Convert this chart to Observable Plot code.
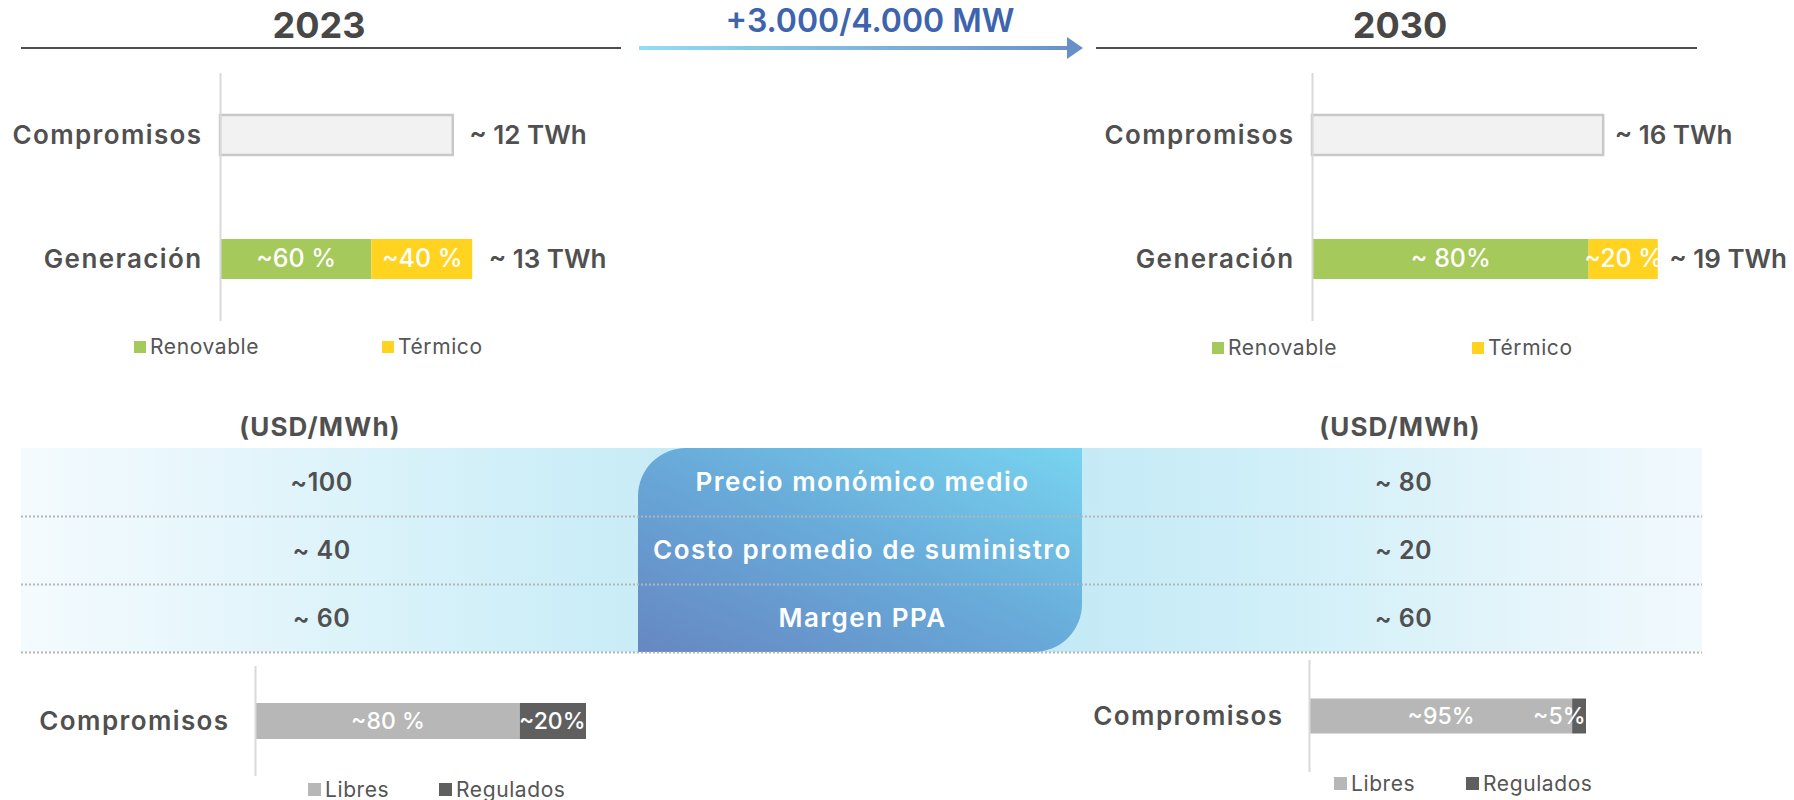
<!DOCTYPE html>
<html>
<head>
<meta charset="utf-8">
<script src="https://cdn.jsdelivr.net/npm/d3@7"></script>
<script src="https://cdn.jsdelivr.net/npm/@observablehq/plot@0.6"></script>
<style>
  html, body { margin: 0; padding: 0; background: #fff; }
  #root { position: relative; width: 1794px; height: 800px; overflow: hidden; font-family: Inter, "Open Sans", sans-serif; }
  .abs { position: absolute; }
  .legend-item { position: absolute; font-size: 21px; color: #555; line-height: 1; white-space: nowrap; letter-spacing: 0.6px; z-index: 4; }
  .swatch { position: absolute; }
</style>
</head>
<body>
<div id="root"></div>
<script>
// ---------------- DATA ----------------
const years = ["2023", "2030"];
const capacityLabel = "+3.000/4.000 MW";
const unitLabel = "(USD/MWh)";

const barCategories = ["Compromisos", "Generación"];
const compromisosTWh = [12, 16];
const generacionTWh = [13, 19];
const compromisosLabels = ["~ 12 TWh", "~ 16 TWh"];
const generacionLabels = ["~ 13 TWh", "~ 19 TWh"];

const genTypes = ["Renovable", "Térmico"];
const genColors = ["#a5c95a", "#ffd31f"];
const renovableShare = [60, 80];
const termicoShare = [40, 20];
const renovableLabels = ["~60 %", "~ 80%"];
const termicoLabels = ["~40 %", "~20 %"];

const priceRows = ["Precio monómico medio", "Costo promedio de suministro", "Margen PPA"];
const prices2023 = [100, 40, 60];
const prices2030 = [80, 20, 60];
const price2023Labels = ["~100", "~ 40", "~ 60"];
const price2030Labels = ["~ 80", "~ 20", "~ 60"];

const contractCategory = ["Compromisos"];
const contractTypes = ["Libres", "Regulados"];
const contractColors = ["#b7b7b7", "#5f5f5f"];
const libresShare = [80, 95];
const reguladosShare = [20, 5];
const libresLabels = ["~80 %", "~95%"];
const reguladosLabels = ["~20%", "~5%"];

// ---------------- LAYOUT ----------------
const FONT = "Inter, 'Open Sans', sans-serif";
const TEXT = "#505050";
const root = document.getElementById("root");

function place(node, left, top, z) {
  const wrap = document.createElement("div");
  wrap.className = "abs";
  wrap.style.left = left + "px";
  wrap.style.top = top + "px";
  if (z != null) wrap.style.zIndex = z;
  wrap.appendChild(node);
  root.appendChild(wrap);
  return wrap;
}
function spaceOut(plot, labels, spacing) {
  plot.querySelectorAll("text").forEach(t => {
    if (labels.includes(t.textContent)) t.style.letterSpacing = spacing;
  });
  return plot;
}

// Decorations: titles, rules, arrow
const svgNS = "http://www.w3.org/2000/svg";
const deco = document.createElementNS(svgNS, "svg");
deco.setAttribute("width", 1794);
deco.setAttribute("height", 800);
deco.style.position = "absolute";
deco.style.left = "0px";
deco.style.top = "0px";
deco.style.zIndex = 5;
deco.style.pointerEvents = "none";
deco.innerHTML = `
  <defs>
    <linearGradient id="arrowGrad" gradientUnits="userSpaceOnUse" x1="639" x2="1083" y1="48" y2="48">
      <stop offset="0" stop-color="#93dcf3"/>
      <stop offset="1" stop-color="#6a8fc7"/>
    </linearGradient>
  </defs>
  <g font-family="${FONT}">
    <text x="319" y="38" text-anchor="middle" font-size="36" font-weight="700" fill="#474747">${years[0]}</text>
    <line x1="21" x2="621" y1="48" y2="48" stroke="#4d4d4d" stroke-width="2"/>
    <text x="1400" y="38" text-anchor="middle" font-size="36" font-weight="700" fill="#474747">${years[1]}</text>
    <line x1="1096" x2="1697" y1="48" y2="48" stroke="#4d4d4d" stroke-width="2"/>
    <rect x="639" y="46" width="430" height="4" fill="url(#arrowGrad)"/>
    <path d="M1067,37 L1083,48 L1067,59 Z" fill="#6a8fc7"/>
    <text x="870" y="32" text-anchor="middle" font-size="32" font-weight="600" fill="#3d64ad">${capacityLabel}</text>
    <text x="320" y="436" text-anchor="middle" font-size="26" font-weight="700" fill="${TEXT}" style="letter-spacing:1.2px">${unitLabel}</text>
    <text x="1400" y="436" text-anchor="middle" font-size="26" font-weight="700" fill="${TEXT}" style="letter-spacing:1.2px">${unitLabel}</text>
  </g>`;
root.appendChild(deco);

// ---------------- TOP BAR CHARTS ----------------
function generationChart(i, L) {
  const marginLeft = L.axisX - L.left;
  const genData = genTypes.map((t, k) => ({
    cat: barCategories[1],
    type: t,
    value: generacionTWh[i] * [renovableShare[i], termicoShare[i]][k] / 100,
    label: [renovableLabels[i], termicoLabels[i]][k]
  }));
  const totals = [
    {cat: barCategories[0], value: compromisosTWh[i], label: compromisosLabels[i]},
    {cat: barCategories[1], value: generacionTWh[i], label: generacionLabels[i]}
  ];
  const inset = (L.height / barCategories.length - L.barH) / 2;
  const plot = Plot.plot({
    width: marginLeft + L.xMax * L.px,
    height: L.height,
    marginLeft, marginRight: 0, marginTop: 0, marginBottom: 0,
    style: {background: "transparent", overflow: "visible", fontFamily: FONT},
    x: {domain: [0, L.xMax], axis: null},
    y: {domain: barCategories, axis: null, padding: 0},
    color: {domain: genTypes, range: genColors},
    marks: [
      Plot.barX(totals.slice(0, 1), {x: "value", y: "cat", fill: "#f2f2f2", stroke: "#c8c8c8", strokeWidth: 2.5, insetTop: inset, insetBottom: inset}),
      Plot.barX(genData, {x: "value", y: "cat", fill: "type", insetTop: inset, insetBottom: inset}),
      Plot.ruleX([0], {stroke: "#d9d9d9", strokeWidth: 2}),
      Plot.text(genData, Plot.stackX({x: "value", y: "cat", text: "label", fill: "white", fontSize: 25, fontWeight: 500})),
      Plot.text(totals, {x: "value", y: "cat", text: "label", textAnchor: "start", dx: L.labelDx, fill: TEXT, fontSize: 26, fontWeight: 600}),
      Plot.text(barCategories, {y: d => d, text: d => d, frameAnchor: "left", textAnchor: "end", dx: L.catDx, fill: TEXT, fontSize: 26, fontWeight: 600})
    ]
  });
  return spaceOut(plot, barCategories, "1.4px");
}

place(generationChart(0, {axisX: 220, left: 0, height: 248, barH: 40, px: 19.4, xMax: 22, labelDx: 16, catDx: -18}), 0, 73, 3);
place(generationChart(1, {axisX: 1312, left: 1020, height: 248, barH: 40, px: 18.2, xMax: 26, labelDx: 11, catDx: -18}), 1020, 73, 3);

// ---------------- TABLE ----------------
const band = document.createElement("div");
band.style.cssText = "width:1681px;height:204px;background:linear-gradient(to right,#f4fbfe 0%,#e3f5fb 14%,#cdeef8 32%,#c2e9f6 45%,#c2e9f6 60%,#cdeef8 72%,#e2f4fa 88%,#f1f9fd 100%);";
place(band, 21, 448, 1);
const pill = document.createElement("div");
pill.style.cssText = "width:444px;height:204px;border-radius:48px 0 48px 0;background:linear-gradient(to top right,#6687c2 0%,#68aad9 50%,#78d4f0 100%);";
place(pill, 638, 448, 2);

const tableCols = [years[0], "concepto", years[1]];
const valueCells = priceRows.flatMap((r, i) => [
  {col: years[0], row: i + 0.5, text: price2023Labels[i], value: prices2023[i]},
  {col: years[1], row: i + 0.5, text: price2030Labels[i], value: prices2030[i]}
]);
const conceptCells = priceRows.map((r, i) => ({col: "concepto", row: i + 0.5, text: r}));
const tablePlot = Plot.plot({
  width: 1794, height: 206,
  marginLeft: 21, marginRight: 92, marginTop: 0, marginBottom: 2,
  style: {background: "transparent", overflow: "visible", fontFamily: FONT},
  x: {type: "point", domain: tableCols, padding: 0.553, axis: null},
  y: {domain: [0, priceRows.length], reverse: true, axis: null},
  marks: [
    Plot.ruleY(d3.range(1, priceRows.length + 1), {stroke: "#b5b5b5", strokeWidth: 2, strokeDasharray: "2 2"}),
    Plot.text(valueCells, {x: "col", y: "row", text: "text", fill: TEXT, fontSize: 25, fontWeight: 600}),
    Plot.text(conceptCells, {x: "col", y: "row", text: "text", fill: "white", fontSize: 26, fontWeight: 600})
  ]
});
spaceOut(tablePlot, priceRows, "1.5px");
spaceOut(tablePlot, price2023Labels.concat(price2030Labels), "0.5px");
place(tablePlot, 0, 448, 3);

// ---------------- BOTTOM BAR CHARTS ----------------
function contractChart(i, L) {
  const marginLeft = L.axisX - L.left;
  const data = contractTypes.map((t, k) => ({
    cat: contractCategory[0],
    type: t,
    value: [libresShare[i], reguladosShare[i]][k],
    label: [libresLabels[i], reguladosLabels[i]][k]
  }));
  const inset = (L.height - L.barH) / 2;
  const common = {x: "value", y: "cat", fill: "white", fontSize: 23, fontWeight: 500};
  const plot = Plot.plot({
    width: marginLeft + L.barW,
    height: L.height,
    marginLeft, marginRight: 0, marginTop: 0, marginBottom: 0,
    style: {background: "transparent", overflow: "visible", fontFamily: FONT},
    x: {domain: [0, 100], axis: null},
    y: {domain: contractCategory, axis: null, padding: 0},
    color: {domain: contractTypes, range: contractColors},
    marks: [
      Plot.barX(data, {x: "value", y: "cat", fill: "type", insetTop: inset, insetBottom: inset}),
      Plot.ruleX([0], {stroke: "#d9d9d9", strokeWidth: 2}),
      Plot.text(data, Plot.stackX({...common, text: d => d.type === contractTypes[0] ? d.label : ""})),
      Plot.text(data, Plot.stackX2({...common, text: d => d.type === contractTypes[1] ? d.label : "", textAnchor: "end", dx: -1})),
      Plot.text(contractCategory, {y: d => d, text: d => d, frameAnchor: "left", textAnchor: "end", dx: L.catDx, fill: TEXT, fontSize: 26, fontWeight: 600})
    ]
  });
  return spaceOut(plot, contractCategory, "1.4px");
}
place(contractChart(0, {axisX: 255, left: 0, height: 110, barH: 36, barW: 331, catDx: -26}), 0, 666, 3);
place(contractChart(1, {axisX: 1309, left: 1040, height: 112, barH: 35, barW: 277, catDx: -26}), 1040, 660, 3);

// ---------------- LEGENDS ----------------
function legend(types, colors, L) {
  types.forEach((t, k) => {
    const sw = document.createElement("div");
    sw.className = "swatch";
    sw.style.cssText = `left:${L.sq[k]}px;top:${L.top}px;width:${L.size}px;height:${L.size}px;background:${colors[k]};z-index:4;position:absolute;`;
    root.appendChild(sw);
    const tx = document.createElement("div");
    tx.className = "legend-item";
    tx.style.left = (L.sq[k] + L.size + 4) + "px";
    tx.style.top = (L.top + L.size / 2 - 11) + "px";
    tx.textContent = t;
    root.appendChild(tx);
  });
}
legend(genTypes, genColors, {sq: [134, 382], top: 341, size: 12});
legend(genTypes, genColors, {sq: [1212, 1472], top: 342, size: 12});
legend(contractTypes, contractColors, {sq: [308, 439], top: 783, size: 13});
legend(contractTypes, contractColors, {sq: [1334, 1466], top: 777, size: 13});
</script>
</body>
</html>
